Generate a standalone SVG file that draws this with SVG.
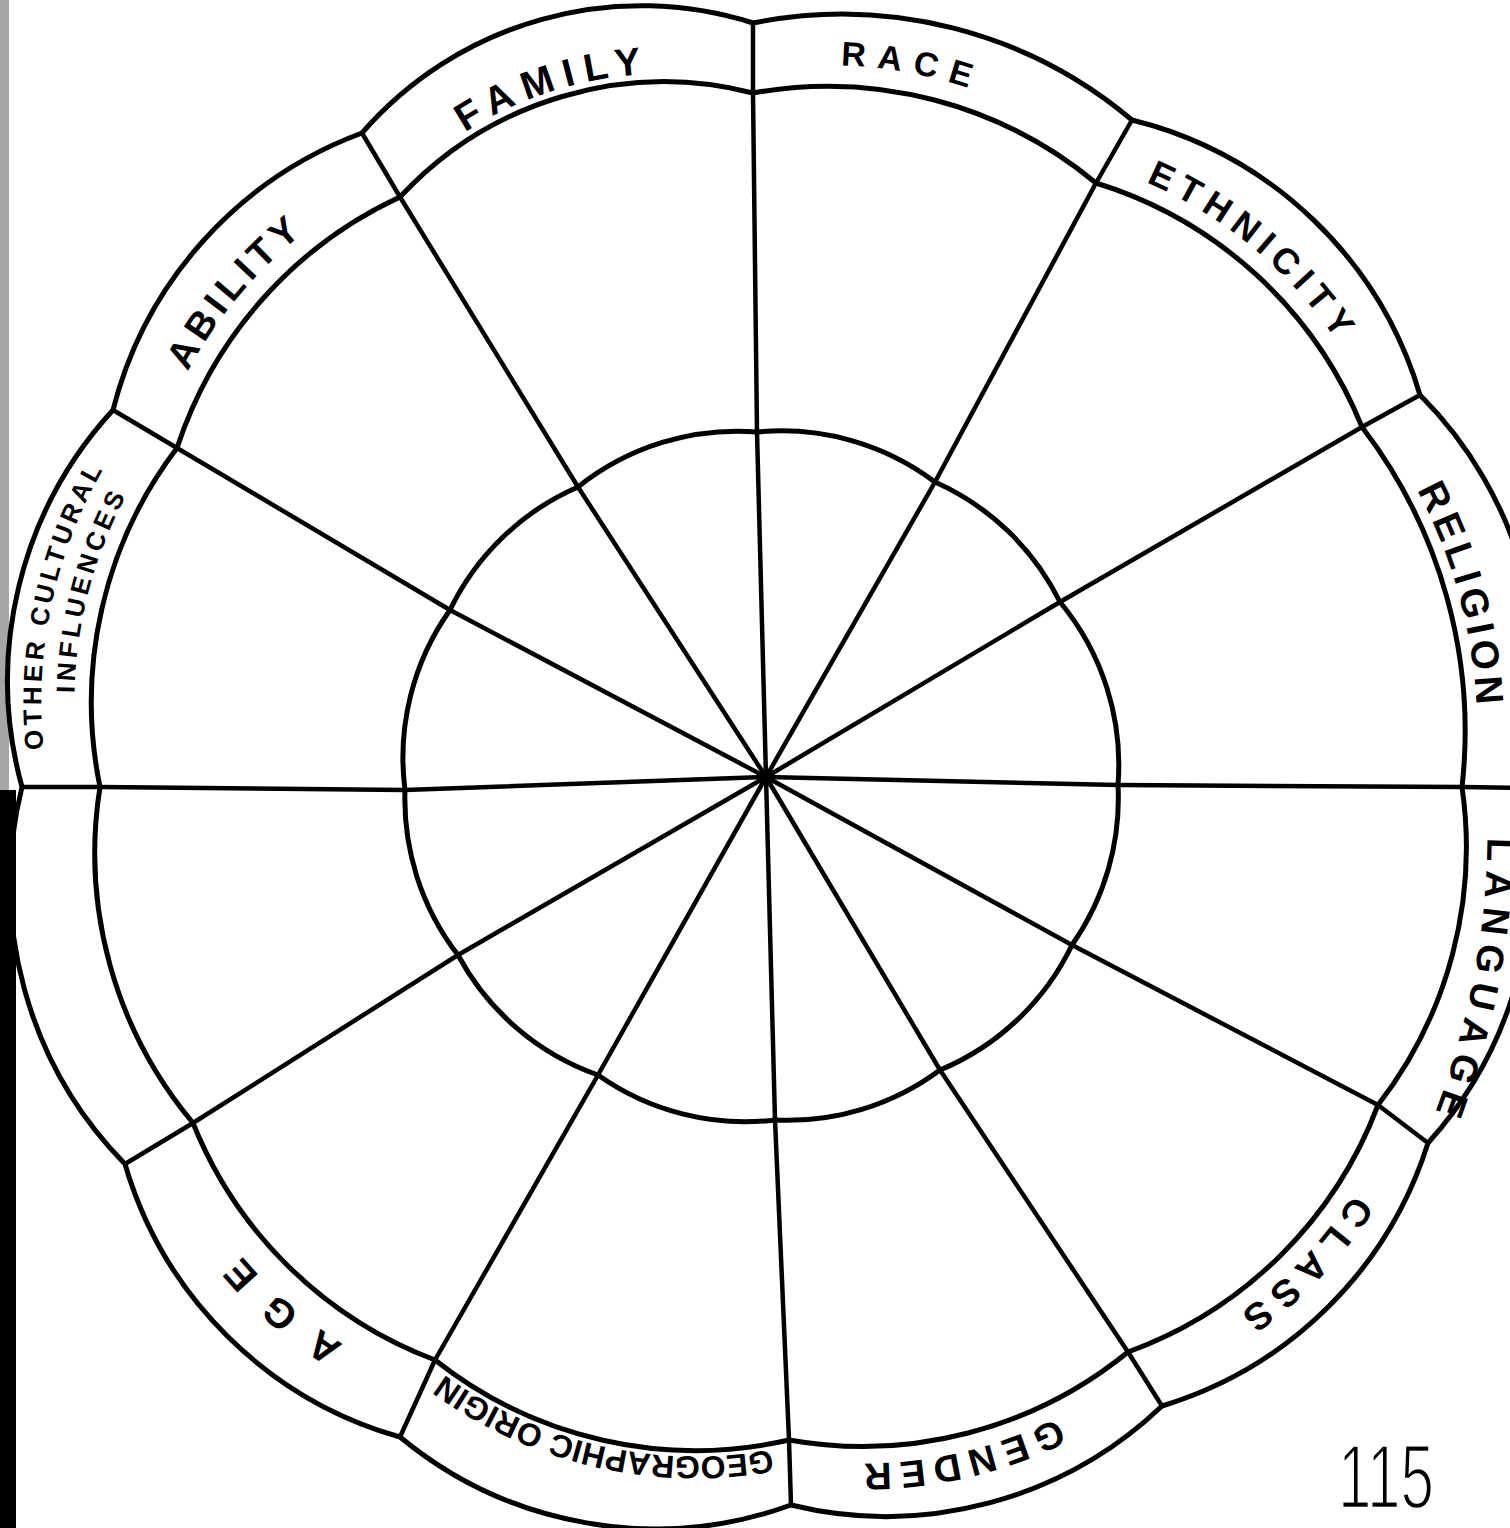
<svg xmlns="http://www.w3.org/2000/svg" width="1510" height="1528" viewBox="0 0 1510 1528">
<style>
.ring{fill:none;stroke:#000;stroke-width:5;stroke-linejoin:round}
.spoke{fill:none;stroke:#000;stroke-width:4.5;stroke-linejoin:round;stroke-linecap:round}
.lbl{font-family:"Liberation Sans",Arial,sans-serif;font-weight:bold;fill:#000;text-anchor:middle}
</style>
<defs>
<path id="a-family" d="M340.8 265.7 A368 368 0 0 1 840.0 118.7"/>
<path id="a-race" d="M605.4 125.5 A441 441 0 0 1 1208.7 283.8"/>
<path id="a-ethnicity" d="M953.8 146.9 A438 438 0 0 1 1410.2 565.5"/>
<path id="a-religion" d="M1217.1 285.4 A512 512 0 0 1 1410.9 983.2"/>
<path id="a-language" d="M1482 740 A780 780 0 0 1 1400 1190"/>
<path id="a-class" d="M1422.8 959.7 A438 438 0 0 1 982.2 1395.1"/>
<path id="a-gender" d="M1239.4 1247.9 A437 437 0 0 1 641.1 1403.2"/>
<path id="a-geo" d="M922.9 1390.7 A426 426 0 0 1 335.3 1257.9"/>
<path id="a-age" d="M587.6 1413.9 A447 447 0 0 1 135.9 971.6"/>
<path id="a-ability" d="M137.1 604.3 A440 440 0 0 1 550.4 139.0"/>
<path id="a-other" d="M113.6 952.7 A470 470 0 0 1 260.9 304.4"/>
<path id="a-influences" d="M141.6 935.1 A437 437 0 0 1 278.5 332.4"/>
</defs>
<rect width="1510" height="1528" fill="#fff"/>
<g id="scan-edge">
<rect x="0" y="0" width="9" height="790" fill="#000" opacity="0.35"/>
<rect x="0" y="790" width="16" height="738" fill="#000"/>
</g>
<g id="outer-ring">
<path class="ring" d="M753 23 A450 450 0 0 1 1132 120 A400 400 0 0 1 1420 395 A400 400 0 0 1 1522 788 A400 400 0 0 1 1428 1143 A400 400 0 0 1 1162 1406 A400 400 0 0 1 791 1505 A400 400 0 0 1 400 1437 A400 400 0 0 1 125 1164 A400 400 0 0 1 22 787 A400 400 0 0 1 113 410 A400 400 0 0 1 362 133 A370 370 0 0 1 753 23 Z"/>
</g>
<g id="band-ring">
<path class="ring" d="M753 93 A420 420 0 0 1 1096 183 A420 420 0 0 1 1362 427 A500 500 0 0 1 1462 787 A420 420 0 0 1 1378 1105 A420 420 0 0 1 1128 1352 A420 420 0 0 1 789 1440 A420 420 0 0 1 435 1360 A420 420 0 0 1 193 1123 A420 420 0 0 1 100 787 A420 420 0 0 1 177 448 A420 420 0 0 1 400 197 A360 360 0 0 1 753 93 Z"/>
</g>
<g id="inner-ring">
<path class="ring" d="M757 432 A255 255 0 0 1 935 482 A255 255 0 0 1 1060 602 A255 255 0 0 1 1118 785 A255 255 0 0 1 1072 945 A255 255 0 0 1 940 1070 A255 255 0 0 1 775 1120 A255 255 0 0 1 598 1075 A255 255 0 0 1 458 955 A255 255 0 0 1 405 790 A255 255 0 0 1 450 610 A255 255 0 0 1 578 487 A255 255 0 0 1 757 432 Z"/>
</g>
<g id="connectors">
<polyline class="spoke" points="766,777 757,432 753,93 753,23"/>
<polyline class="spoke" points="766,777 935,482 1096,183 1132,120"/>
<polyline class="spoke" points="766,777 1060,602 1362,427 1420,395"/>
<polyline class="spoke" points="766,777 1118,785 1462,787 1522,788"/>
<polyline class="spoke" points="766,777 1072,945 1378,1105 1428,1143"/>
<polyline class="spoke" points="766,777 940,1070 1128,1352 1162,1406"/>
<polyline class="spoke" points="766,777 775,1120 789,1440 791,1505"/>
<polyline class="spoke" points="766,777 598,1075 435,1360 400,1437"/>
<polyline class="spoke" points="766,777 458,955 193,1123 125,1164"/>
<polyline class="spoke" points="766,777 405,790 100,787 22,787"/>
<polyline class="spoke" points="766,777 450,610 177,448 113,410"/>
<polyline class="spoke" points="766,777 578,487 400,197 362,133"/>
<circle cx="766" cy="777" r="8" fill="#000"/>
</g>
<g id="label-family"><text class="lbl" font-size="39"><textPath href="#a-family" startOffset="278" textLength="188" lengthAdjust="spacing">FAMILY</textPath></text></g>
<g id="label-race"><text class="lbl" font-size="34"><textPath href="#a-race" startOffset="311" textLength="130" lengthAdjust="spacing">RACE</textPath></text></g>
<g id="label-ethnicity"><text class="lbl" font-size="36"><textPath href="#a-ethnicity" startOffset="322" textLength="250" lengthAdjust="spacing">ETHNICITY</textPath></text></g>
<g id="label-religion"><text class="lbl" font-size="39"><textPath href="#a-religion" startOffset="50%" textLength="225" lengthAdjust="spacing">RELIGION</textPath></text></g>
<g id="label-language"><text class="lbl" font-size="38"><textPath href="#a-language" startOffset="238" textLength="280" lengthAdjust="spacing">LANGUAGE</textPath></text></g>
<g id="label-class"><text class="lbl" font-size="38"><textPath href="#a-class" startOffset="330" textLength="165" lengthAdjust="spacing">CLASS</textPath></text></g>
<g id="label-gender"><text class="lbl" font-size="38"><textPath href="#a-gender" startOffset="353" textLength="200" lengthAdjust="spacing">GENDER</textPath></text></g>
<g id="label-geographic-origin"><text class="lbl" font-size="32"><textPath href="#a-geo" startOffset="336" textLength="345" lengthAdjust="spacing">GEOGRAPHIC ORIGIN</textPath></text></g>
<g id="label-age"><text class="lbl" font-size="40"><textPath href="#a-age" startOffset="325" textLength="135" lengthAdjust="spacing">AGE</textPath></text></g>
<g id="label-ability"><text class="lbl" font-size="38"><textPath href="#a-ability" startOffset="331" textLength="180" lengthAdjust="spacing">ABILITY</textPath></text></g>
<g id="label-other-cultural-influences">
<text class="lbl" font-size="26"><textPath href="#a-other" startOffset="362" textLength="290" lengthAdjust="spacing">OTHER CULTURAL</textPath><textPath href="#a-influences" startOffset="357" textLength="205" lengthAdjust="spacing">INFLUENCES</textPath></text>
</g>
<g id="page-number"><text x="1386" y="1508" font-family="'Liberation Sans',Arial,sans-serif" font-size="90" text-anchor="middle" textLength="96" lengthAdjust="spacingAndGlyphs" fill="#000" stroke="#fff" stroke-width="2.5">115</text></g>
</svg>
